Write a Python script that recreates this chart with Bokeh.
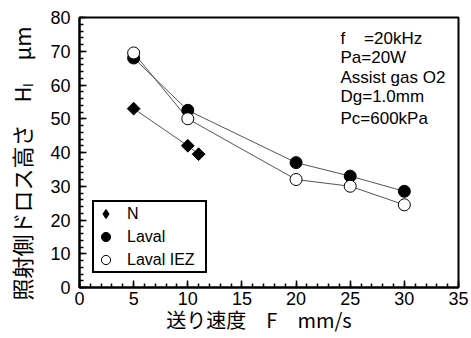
import math
from bokeh.plotting import figure
from bokeh.models import Range1d, FixedTicker, Legend, LegendItem, Label
from bokeh.embed import file_html
from bokeh.resources import INLINE

# ---- data ----
n_x = [5, 10, 11]
n_y = [53, 42, 39.5]
laval_x = [5, 10, 20, 25, 30]
laval_y = [68, 52.5, 37, 33, 28.5]
iez_x = [5, 10, 20, 25, 30]
iez_y = [69.5, 50, 32, 30, 24.5]
x_ticks = [0, 5, 10, 15, 20, 25, 30, 35]
y_ticks = [0, 10, 20, 30, 40, 50, 60, 70, 80]
x_minor = list(range(0, 36))
y_minor = list(range(0, 81, 2))
notes = ["f\u00a0\u00a0\u00a0\u00a0=20kHz", "Pa=20W", "Assist gas O2", "Dg=1.0mm", "Pc=600kPa"]
x_title = "送り速度\u3000F\u3000mm/s\u3000"
y_title = "照射側ドロス高さ\u3000Hₗ\u3000μm\u3000"

p = figure(width=471, height=338, output_backend="svg", toolbar_location=None,
           x_range=Range1d(0, 35), y_range=Range1d(0, 80),
           min_border_left=79, min_border_right=13, min_border_top=17, min_border_bottom=51)

p.xgrid.visible = False
p.ygrid.visible = False
p.outline_line_color = "black"
p.outline_line_width = 2
p.outline_line_alpha = 1
p.background_fill_color = "white"
p.border_fill_color = "white"

p.xaxis.ticker = FixedTicker(ticks=x_ticks, minor_ticks=x_minor)
p.yaxis.ticker = FixedTicker(ticks=y_ticks, minor_ticks=y_minor)
for ax in (p.xaxis[0], p.yaxis[0]):
    ax.axis_line_width = 2
    ax.axis_line_color = "black"
    ax.major_tick_in = 7
    ax.major_tick_out = 0
    ax.minor_tick_in = 4
    ax.minor_tick_out = 0
    ax.major_tick_line_width = 1.5
    ax.minor_tick_line_width = 1.5
    ax.major_label_text_font = "Liberation Sans"
    ax.major_label_text_font_size = "18px"
    ax.major_label_text_color = "black"
    ax.axis_label_text_font = "Noto Sans CJK JP"
    ax.axis_label_text_font_style = "normal"
    ax.axis_label_text_color = "black"

p.xaxis.axis_label_text_font_size = "20px"
p.yaxis.axis_label_text_font_size = "22px"
p.xaxis.major_label_standoff = 4
p.yaxis.major_label_standoff = 9
p.xaxis.axis_label = x_title
p.yaxis.axis_label = y_title
p.xaxis.axis_label_standoff = -3
p.yaxis.axis_label_standoff = 10

line_col = "#555555"
p.line(n_x, n_y, line_color=line_col, line_width=1)
p.line(laval_x, laval_y, line_color=line_col, line_width=1)
p.line(iez_x, iez_y, line_color=line_col, line_width=1)

# diamond used for the legend symbol, hidden beneath the rotated squares
r_n_leg = p.scatter(n_x, n_y, marker="diamond", size=11,
                    fill_color="black", line_color="black")
r_n = p.scatter(n_x, n_y, marker="square", size=9, angle=math.pi / 4,
                fill_color="black", line_color="black")
r_l = p.scatter(laval_x, laval_y, marker="circle", size=12,
                fill_color="black", line_color="black")
r_i = p.scatter(iez_x, iez_y, marker="circle", size=12,
                fill_color="white", line_color="black", line_width=1)

legend = Legend(items=[LegendItem(label="N", renderers=[r_n_leg]),
                       LegendItem(label="Laval", renderers=[r_l]),
                       LegendItem(label="Laval IEZ", renderers=[r_i])],
                location=(13, 14))
legend.border_line_color = "black"
legend.border_line_alpha = 1
legend.border_line_width = 2
legend.label_text_font = "Liberation Sans"
legend.label_text_font_size = "16px"
legend.label_text_color = "black"
legend.glyph_width = 23
legend.glyph_height = 23
legend.label_height = 23
legend.label_width = 78
legend.spacing = 0
legend.padding = 0
legend.margin = 0
legend.label_standoff = 10
legend.background_fill_alpha = 1
p.add_layout(legend, "center")

note_y = [73.8, 68.2, 62.3, 56.7, 50.0]
for txt, yy in zip(notes, note_y):
    p.add_layout(Label(x=24.1, y=yy, text=txt, text_font="Liberation Sans",
                       text_font_size="17px", text_baseline="middle", text_color="black"))

open("out.html", "w").write(file_html(p, INLINE))
